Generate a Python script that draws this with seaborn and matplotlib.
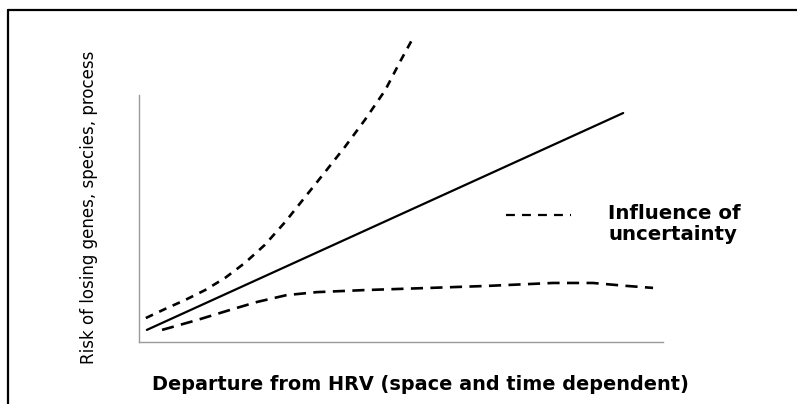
import numpy as np
import pandas as pd
import seaborn as sns
import matplotlib.pyplot as plt
from matplotlib.lines import Line2D

# Conceptual curves (x: departure, y: risk, both 0-100 axis units)
mean_x = [1.5, 92.4]
mean_y = [4.9, 92.7]

upper_x = [1.3, 5.0, 8.8, 12.6, 16.4, 20.2, 24.0, 27.9, 31.7, 35.5, 39.3, 43.1, 47.0, 49.8, 52.3]
upper_y = [9.7, 13.4, 17.0, 21.0, 25.9, 32.0, 39.3, 48.6, 58.7, 68.8, 79.0, 89.9, 102.0, 113.4, 123.1]

lower_x = [4.4, 11.1, 17.4, 22.5, 28.2, 34.0, 42.8, 55.5, 66.4, 79.0, 86.6, 93.1, 98.1]
lower_y = [4.9, 8.9, 13.0, 16.2, 19.0, 20.2, 21.0, 21.9, 22.7, 23.9, 23.9, 22.7, 21.9]

xlabel = 'Departure from HRV (space and time dependent)'
ylabel = 'Risk of losing genes, species, process'
legend_label = 'Influence of\nuncertainty'

sns.set_style('white')
plt.rcParams['font.family'] = ['DejaVu Sans']
plt.rcParams['text.color'] = 'black'
plt.rcParams['axes.labelcolor'] = 'black'

W, H = 797, 404
fig = plt.figure(figsize=(W / 100, H / 100), dpi=100)
ax = fig.add_axes([139 / W, (H - 342) / H, 524 / W, 247 / H])

df_mean = pd.DataFrame({'x': mean_x, 'y': mean_y})
df_up = pd.DataFrame({'x': upper_x, 'y': upper_y})
df_lo = pd.DataFrame({'x': lower_x, 'y': lower_y})

sns.lineplot(data=df_mean, x='x', y='y', ax=ax, color='black', lw=1.6, sort=False)
sns.lineplot(data=df_up, x='x', y='y', ax=ax, color='black', lw=1.9, sort=False)
sns.lineplot(data=df_lo, x='x', y='y', ax=ax, color='black', lw=1.9, sort=False)
ax.lines[1].set_dashes((3.0, 2.6))
ax.lines[2].set_dashes((4.6, 2.8))
for ln in ax.lines:
    ln.set_clip_on(False)

ax.set_xlim(0, 100)
ax.set_ylim(0, 100)
ax.set_xticks([])
ax.set_yticks([])
for s in ['top', 'right']:
    ax.spines[s].set_visible(False)
for s in ['left', 'bottom']:
    ax.spines[s].set_color('#9a9a9a')
    ax.spines[s].set_linewidth(1.0)

ax.set_xlabel(xlabel, fontsize=13.9, fontweight='bold', va='baseline')
ax.xaxis.set_label_coords((420 - 139) / 524, (342 - 390) / 247)
ax.set_ylabel(ylabel, fontsize=12, va='center')
ax.yaxis.set_label_coords((89 - 139) / 524, (342 - 207) / 247)

# legend key
ax.add_line(Line2D([(506 - 139) / 524, (571 - 139) / 524], [(342 - 215) / 247] * 2,
                   transform=ax.transAxes, color='black', lw=1.6, dashes=(4, 3.2),
                   clip_on=False))
ax.text((608 - 139) / 524, (342 - 240) / 247, legend_label, transform=ax.transAxes,
        fontsize=14.2, fontweight='bold', va='baseline', ha='left', linespacing=1.15)

# outer frame (left and top edges visible)
fig.add_artist(Line2D([8 / W, 8 / W], [0, 1 - 10 / H], transform=fig.transFigure,
                      color='black', lw=1.6))
fig.add_artist(Line2D([8 / W, 1], [1 - 10 / H, 1 - 10 / H], transform=fig.transFigure,
                      color='black', lw=1.6))

fig.savefig('out.png', dpi=100, facecolor='white')
